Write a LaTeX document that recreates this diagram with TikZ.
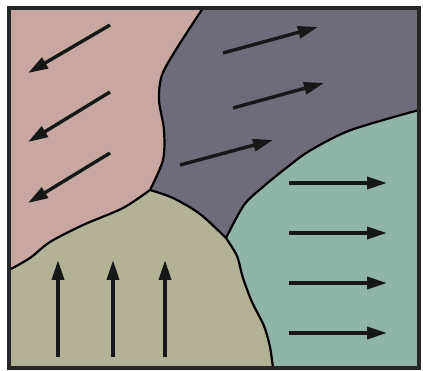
\documentclass[tikz,border=0pt]{standalone}
\usetikzlibrary{arrows.meta}
\definecolor{grainPink}{RGB}{200,167,161}
\definecolor{grainGrey}{RGB}{109,108,120}
\definecolor{grainTeal}{RGB}{144,180,167}
\definecolor{grainKhaki}{RGB}{179,178,151}
\definecolor{arrowInk}{RGB}{22,24,24}
\tikzset{
	boundary/.style={
		line width=2.2pt,
		draw=black,
	},
	frame/.style={
		line width=3.5pt,
		draw=black!85,
	},
	flow/.style={
		-{Triangle[length=20pt,width=12pt]},
		line width=3.4pt,
		draw=arrowInk,
	}
}
\begin{document}
\begin{tikzpicture}[x=1pt,y=-1pt]
	\useasboundingbox[fill=white] (0,0) rectangle (423,371);
	
	% --- Regions (grey first, the others on top) ---
	\fill[grainGrey] (9,8) rectangle (419,368);
	\fill[grainPink] (9,8)
		-- plot[smooth] coordinates {(203,8) (177,48) (162,75) (159,100) (164,130) (163,160) (150,190)}
		-- plot[smooth] coordinates {(150,190) (123,208) (83,225) (50,242) (30,258) (9,270)}
		-- cycle;
	\fill[grainTeal] (419,368) -- (419,110)
		-- plot[smooth] coordinates {(419,110) (351,130) (311,150) (290,165) (264,186) (244,205) (226,238)}
		-- plot[smooth] coordinates {(226,238) (237,256) (243,278) (252,302) (264,326) (270,347) (273,368)}
		-- cycle;
	\fill[grainKhaki] (9,368) -- (9,270)
		-- plot[smooth] coordinates {(9,270) (30,258) (50,242) (83,225) (123,208) (150,190)}
		-- plot[smooth] coordinates {(150,190) (173,198) (200,214) (226,238)}
		-- plot[smooth] coordinates {(226,238) (237,256) (243,278) (252,302) (264,326) (270,347) (273,368)}
		-- cycle;
	
	% --- Boundaries ---
	\draw[boundary] plot[smooth] coordinates {(203,8) (177,48) (162,75) (159,100) (164,130) (163,160) (150,190)};
	\draw[boundary] plot[smooth] coordinates {(150,190) (123,208) (83,225) (50,242) (30,258) (9,270)};
	\draw[boundary] plot[smooth] coordinates {(150,190) (173,198) (200,214) (226,238)};
	\draw[boundary] plot[smooth] coordinates {(226,238) (244,205) (264,186) (290,165) (311,150) (351,130) (419,110)};
	\draw[boundary] plot[smooth] coordinates {(226,238) (237,256) (243,278) (252,302) (264,326) (270,347) (273,368)};
	
	% --- Frame ---
	\draw[frame] (9,8) rectangle (419,368);
	
	% --- Flows: pink grain ---
	\draw[flow] (110,25) -- (28,73);
	\draw[flow] (110,92) -- (28,142);
	\draw[flow] (110,153) -- (28,203);
	
	% --- Flows: grey grain ---
	\draw[flow] (223,53) -- (318,27);
	\draw[flow] (233,108) -- (324,83);
	\draw[flow] (180,165) -- (273,140);
	
	% --- Flows: teal grain ---
	\draw[flow] (289,183) -- (387,183);
	\draw[flow] (289,233) -- (387,233);
	\draw[flow] (289,283) -- (387,283);
	\draw[flow] (289,333) -- (387,333);
	
	% --- Flows: khaki grain ---
	\draw[flow] (58,357) -- (58,260);
	\draw[flow] (113,357) -- (113,260);
	\draw[flow] (165,357) -- (165,260);
\end{tikzpicture}
\end{document}
